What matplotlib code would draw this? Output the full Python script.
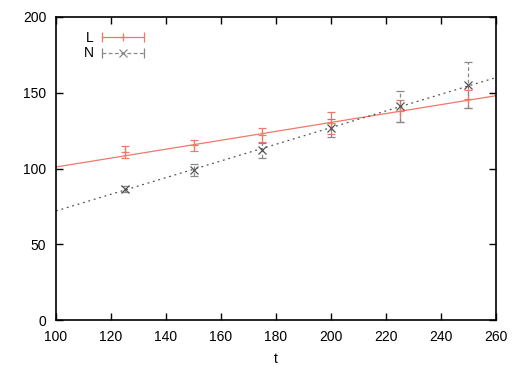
import numpy as np
import matplotlib
matplotlib.use("Agg")
import matplotlib.pyplot as plt
from matplotlib.lines import Line2D
from matplotlib.legend_handler import HandlerBase

plt.rcParams['font.family'] = ['Liberation Sans', 'DejaVu Sans']

# measurements
t = [125, 150, 175, 200, 225, 250]
L_val = [110.7, 115.3, 122.0, 130.0, 138.0, 146.0]
L_err = [4.0, 3.6, 4.6, 7.0, 7.0, 6.0]
N_val = [86.2, 98.8, 112.0, 126.5, 141.0, 155.0]
N_err = [2.0, 4.0, 5.0, 6.0, 10.0, 15.0]

# fitted lines (slope, intercept)
L_fit = (0.294, 71.6)
N_fit = (0.55, 17.0)

RED = '#f07868'
GRAY = '#555555'


class ErrKey(HandlerBase):
    def __init__(self, color, ls, marker):
        super().__init__()
        self.color, self.ls, self.marker = color, ls, marker

    def create_artists(self, legend, orig_handle, xdescent, ydescent,
                       width, height, fontsize, trans):
        y = height / 2 - ydescent
        x0, x1 = -xdescent, width - xdescent
        line = Line2D([x0, x1], [y, y], color=self.color, ls=self.ls, lw=0.9)
        caps = Line2D([x0, x1], [y, y], ls='none', marker='|', ms=7,
                      mew=0.9, color=self.color)
        mid = Line2D([(x0 + x1) / 2], [y], ls='none', marker=self.marker,
                     ms=6, mew=0.9, color=self.color)
        for a in (line, caps, mid):
            a.set_transform(trans)
        return [line, caps, mid]


fig = plt.figure(figsize=(5.25, 3.67), dpi=100)
ax = fig.add_axes([0.1067, 0.128, 0.838, 0.8257])

xx = np.array([100, 260])
ax.plot(xx, L_fit[0] * xx + L_fit[1], color=RED, lw=0.9)
ax.plot(xx, N_fit[0] * xx + N_fit[1], color=GRAY, lw=0.9, ls=(0, (1.5, 3)))

ax.errorbar(t, L_val, yerr=L_err, fmt='+', color=RED, ecolor=RED,
            elinewidth=0.9, capsize=3, capthick=0.9, ms=6, mew=0.9)
eb = ax.errorbar(t, N_val, yerr=N_err, fmt='x', color=GRAY, ecolor='#888888',
                 elinewidth=0.9, capsize=3, capthick=0.9, ms=6, mew=0.9)
eb[2][0].set_linestyle((0, (3, 2)))

hL = Line2D([], [])
hN = Line2D([], [])
ax.legend([hL, hN], ['L', 'N'], loc='upper left', frameon=False,
          markerfirst=False, handlelength=3.0, handletextpad=0.6, fontsize=10,
          bbox_to_anchor=(0.035, 0.995), labelspacing=0.1,
          handler_map={hL: ErrKey(RED, '-', '+'), hN: ErrKey('#888888', (0, (3, 2)), 'x')})

ax.set_xlim(100, 260)
ax.set_ylim(0, 200)
ax.set_xticks(np.arange(100, 261, 20))
ax.set_yticks(np.arange(0, 201, 50))
ax.tick_params(direction='in', top=True, right=True, labelsize=10, length=5, width=1)
ax.tick_params(axis='y', pad=7)
ax.tick_params(axis='x', pad=7)
for s in ax.spines.values():
    s.set_linewidth(1.2)
ax.set_xlabel('t', fontsize=10, labelpad=6)

fig.savefig('out.png', dpi=100)
